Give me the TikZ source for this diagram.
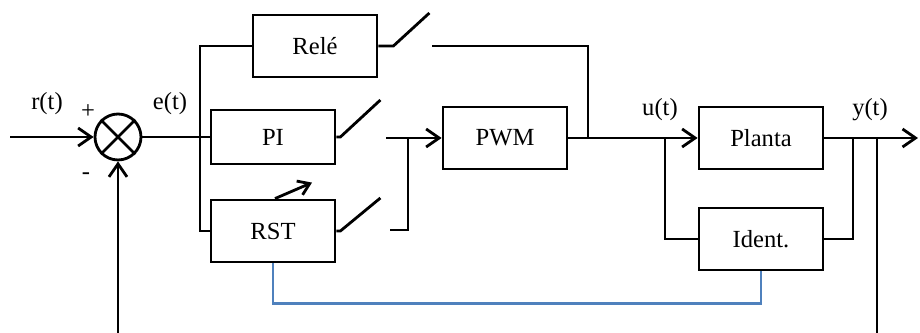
\documentclass[tikz,border=0pt]{standalone}
\usepackage{fontspec}
\setmainfont{Liberation Serif}
\usetikzlibrary{arrows.meta}

\tikzset{
  blk/.style={draw, line width=1.6pt, minimum width=2.48cm, minimum height=1.24cm,
    inner sep=0pt, font=\fontsize{14}{16}\selectfont},
  sumnode/.style={draw, circle, line width=1.6pt, minimum size=0.92cm, inner sep=0pt},
  lbl/.style={font=\fontsize{14}{16}\selectfont, inner sep=1pt},
  wire/.style={line width=1.6pt},
  sig/.style={wire, -{Straight Barb[length=2.6mm,width=3.6mm]}},
  idline/.style={line width=1.4pt, draw={rgb,255:red,79;green,129;blue,189}}
}

\begin{document}
\begin{tikzpicture}[x=0.02cm, y=-0.02cm]
  \useasboundingbox (0,0) rectangle (920,333);

  % summing junction
  \node[sumnode] (sum) at (118,137) {};
  \draw[wire] (sum.north west) -- (sum.south east);
  \draw[wire] (sum.north east) -- (sum.south west);

  % controllers
  \node[blk] (rele) at (315,46) {Relé};
  \node[blk, minimum height=1.08cm] (pi) at (273,137) {PI};
  \node[blk] (rst) at (273,231) {RST};
  \node[blk] (pwm) at (505,138) {PWM};
  \node[blk] (planta) at (761,138) {Planta};
  \node[blk] (ident) at (761,239) {Ident.};

  \coordinate (in) at (10,137);
  \coordinate (fb) at (118,333);
  \coordinate (e) at (200,137);
  \coordinate (c1) at (432,46);
  \coordinate (c2) at (386,138);
  \coordinate (c3) at (390,230);
  \coordinate (k) at (408,138);
  \coordinate (j1) at (588,138);
  \coordinate (u) at (665,138);
  \coordinate (y1) at (853,138);
  \coordinate (y2) at (877,138);
  \coordinate (yb) at (877,333);
  \coordinate (out) at (918,138);

  % labels
  \node[lbl] (rlab) at (47,104) {r(t)};
  \node[lbl] (plus) at (88,112) {+};
  \node[lbl] (minus) at (86,176) {-};
  \node[lbl] (elab) at (170,104) {e(t)};
  \node[lbl] (ulab) at (660,110) {u(t)};
  \node[lbl] (ylab) at (870,110) {y(t)};

  % input and feedback
  \draw[sig] (in) -- (sum.west);
  \draw[sig] (fb) -- (sum.south);

  % error bus
  \draw[wire] (sum.east) -- (e);
  \draw[wire] (rele.west) -| (e) |- (rst.west);
  \draw[wire] (e) -- (pi.west);

  % switches
  \draw[wire] (rele.east) -- ++(15,0) -- ++(36,-33);
  \draw[wire] (pi.east) -- ++(4,0) -- ++(40,-37);
  \draw[wire] (rst.east) -- ++(4,0) -- ++(40,-33);
  \draw[wire] (c1) -| (j1);
  \draw[sig] (c2) -- (pwm.west);
  \draw[wire] (c3) -| (k);

  % adaptation arrow
  \draw[wire, -{Straight Barb[length=2.2mm,width=3mm]}] ([xshift=0.04cm]rst.north) -- ++(37,-16);

  % plant and identification
  \draw[sig] (pwm.east) -- (planta.west);
  \draw[wire] (u) |- (ident.west);
  \draw[wire] (ident.east) -| (y1);
  \draw[sig] (planta.east) -- (out);
  \draw[wire] (y2) -- (yb);

  \draw[idline] (rst.south) -- ++(0,40) -| (ident.south);
\end{tikzpicture}
\end{document}
